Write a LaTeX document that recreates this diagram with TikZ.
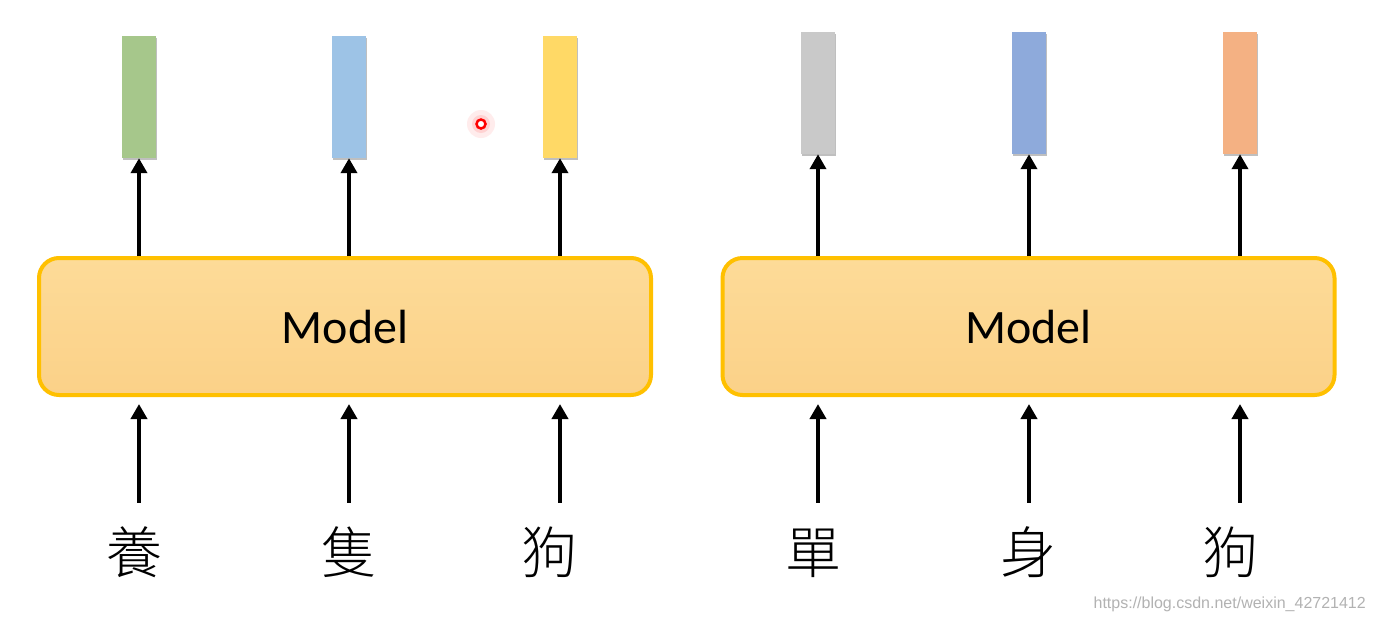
\documentclass[tikz,border=0pt]{standalone}
\usepackage{fontspec}
\newfontfamily\cjk{Noto Sans CJK TC}[UprightFont=* Light]
\newfontfamily\modelfont{Carlito}
\newfontfamily\wmfont{Liberation Sans}
\usetikzlibrary{arrows.meta,shadows}
\definecolor{cgreen}{HTML}{A6C78B}
\definecolor{cblue}{HTML}{9DC3E6}
\definecolor{cyellow}{HTML}{FFD966}
\definecolor{cgray}{HTML}{C9C9C9}
\definecolor{cblueb}{HTML}{8EAADB}
\definecolor{corange}{HTML}{F4B183}
\definecolor{boxline}{HTML}{FFC000}
\definecolor{boxtop}{HTML}{FDDB98}
\definecolor{boxbot}{HTML}{FBD188}
\begin{document}
\begin{tikzpicture}[x=1pt,y=-1pt,
  bar/.style={minimum width=34pt,minimum height=122pt,inner sep=0pt,
    drop shadow={shadow xshift=1pt,shadow yshift=-2pt,opacity=0.25,fill=black}},
  modelbox/.style={draw=boxline,line width=4pt,rounded corners=20pt,
    top color=boxtop,bottom color=boxbot,minimum width=612pt,minimum height=137pt,
    font=\modelfont\fontsize{48}{48}\selectfont},
  word/.style={font=\cjk\fontsize{56}{56}\selectfont,anchor=base,
    text height=67pt,text depth=0pt,inner sep=3pt},
  arr/.style={line width=4pt,-{Triangle[length=15pt,width=16pt]}}]
\useasboundingbox (0,0) rectangle (1373,622);
\fill[white] (0,0) rectangle (1373,622);

% left group
\node[bar,fill=cgreen] (g1) at (139,97) {};
\node[bar,fill=cblue] (g2) at (349,97) {};
\node[bar,fill=cyellow] (g3) at (560,97) {};
\node[modelbox] (mL) at (345,326.5) {Model};
\node[word] (w1) at (134,573) {養};
\node[word] (w2) at (349,573) {隻};
\node[word] (w3) at (549,573) {狗};

% right group
\node[bar,fill=cgray] (h1) at (818,93) {};
\node[bar,fill=cblueb] (h2) at (1029,93) {};
\node[bar,fill=corange] (h3) at (1240,93) {};
\node[modelbox] (mR) at (1028.5,326.5) {Model};
\node[word] (v1) at (813,573) {單};
\node[word] (v2) at (1028,573) {身};
\node[word] (v3) at (1230,573) {狗};

% arrows model -> bars
\foreach \b/\m in {g1/mL,g2/mL,g3/mL,h1/mR,h2/mR,h3/mR}{
  \draw[arr] (\b.south |- \m.north) -- (\b.south);
}
% arrows words -> model
\foreach \w/\b/\m in {w1/g1/mL,w2/g2/mL,w3/g3/mL,v1/h1/mR,v2/h2/mR,v3/h3/mR}{
  \draw[arr,shorten >=7pt] (\b.south |- \w.north) -- (\b.south |- \m.south);
}

% laser pointer dot
\fill[red!12,opacity=0.6] (481,124) circle (14pt);
\fill[red!22,opacity=0.7] (481,124) circle (9pt);
\draw[red,line width=2.5pt,fill=white] (481,124) circle (4.5pt);

% watermark
\node[font=\wmfont\fontsize{16}{16}\selectfont,text=black!30,anchor=east,inner sep=0pt] (wm) at (1366,604) {https://blog.csdn.net/weixin\_42721412};
\end{tikzpicture}
\end{document}
